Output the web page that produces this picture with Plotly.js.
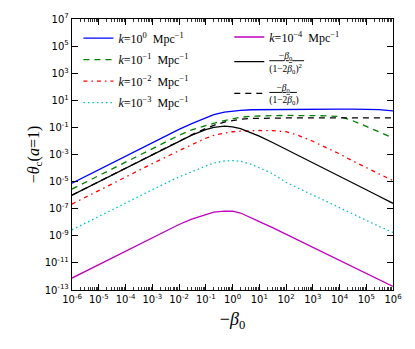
<!DOCTYPE html>
<html>
<head>
<meta charset="utf-8">
<script src="https://cdn.plot.ly/plotly-3.0.1.min.js"></script>
<style>html,body{margin:0;padding:0;background:#fff;}#chart{width:415px;height:349px;}</style>
</head>
<body>
<div id="chart"></div>
<script>
// -beta_0 sample points
var beta = [1e-6,1e-5,1e-4,1e-3,1e-2,3e-2,1e-1,2e-1,5e-1,1,2,5,10,30,100,300,1e3,3e3,1e4,3e4,1e5,3e5,1e6];

// -theta_c(a=1) for each k
var thetaK1e0 = [7.6e-6,7.6e-5,7.6e-4,7.4e-3,0.071,0.19,0.55,0.89,1.32,1.62,1.82,2.0,2.04,2.14,2.19,2.19,2.24,2.24,2.24,2.24,2.19,2.04,1.66];
var thetaK1e1 = [2.8e-6,2.8e-5,2.8e-4,2.75e-3,0.026,0.066,0.14,0.2,0.32,0.45,0.56,0.66,0.71,0.74,0.76,0.76,0.76,0.72,0.63,0.32,0.12,0.045,0.0166];
var thetaK1e2 = [2.2e-7,2.2e-6,2.2e-5,2.1e-4,1.9e-3,5.4e-3,0.0158,0.0263,0.0398,0.0479,0.0525,0.0575,0.0589,0.0575,0.0479,0.0251,0.00955,3.4e-3,1.12e-3,3.5e-4,1.12e-4,3.7e-5,1.17e-5];
var thetaK1e3 = [2.75e-9,2.75e-8,2.7e-7,2.5e-6,2.24e-5,5.6e-5,1.41e-4,2.4e-4,3.3e-4,3.55e-4,3.16e-4,1.9e-4,1.05e-4,4.0e-5,8.9e-6,3.16e-6,1.12e-6,4.0e-7,1.26e-7,4.2e-8,1.41e-8,5.0e-9,1.78e-9];
var thetaK1e4 = [7.6e-13,7.6e-12,7.6e-11,7.4e-10,6.8e-9,1.7e-8,3.8e-8,5.6e-8,6.6e-8,6.5e-8,4.8e-8,2.24e-8,1.12e-8,4.2e-9,1.32e-9,4.6e-10,1.45e-10,5.0e-11,1.6e-11,5.4e-12,1.7e-12,5.9e-13,1.86e-13];
var approxSquared = [1e-6,1e-5,1e-4,9.96e-4,9.61e-3,0.0267,0.0694,0.102,0.125,0.111,0.08,0.0413,0.0227,0.00806,0.00248,8.31e-4,2.5e-4,8.33e-5,2.5e-5,8.33e-6,2.5e-6,8.33e-7,2.5e-7];
var approxLinear = [1e-6,1e-5,1e-4,9.98e-4,9.8e-3,0.0283,0.0833,0.143,0.25,0.333,0.4,0.4545,0.476,0.492,0.4975,0.4992,0.4998,0.5,0.5,0.5,0.5,0.5,0.5];

// tick labels
var xTickVals = [1e-6,1e-5,1e-4,1e-3,1e-2,1e-1,1e0,1e1,1e2,1e3,1e4,1e5,1e6];
var xTickText = ['10<sup>-6</sup>','10<sup>-5</sup>','10<sup>-4</sup>','10<sup>-3</sup>','10<sup>-2</sup>','10<sup>-1</sup>','10<sup>0</sup>','10<sup>1</sup>','10<sup>2</sup>','10<sup>3</sup>','10<sup>4</sup>','10<sup>5</sup>','10<sup>6</sup>'];
var yTickVals = [1e-13,1e-11,1e-9,1e-7,1e-5,1e-3,1e-1,1e1,1e3,1e5,1e7];
var yTickText = ['10<sup>-13</sup>','10<sup>-11</sup>','10<sup>-9</sup>','10<sup>-7</sup>','10<sup>-5</sup>','10<sup>-3</sup>','10<sup>-1</sup>','10<sup>1</sup>','10<sup>3</sup>','10<sup>5</sup>','10<sup>7</sup>'];

var names = [
  '<i>k</i>=10<sup>0</sup>  Mpc<sup>−1</sup>',
  '<i>k</i>=10<sup>−1</sup>  Mpc<sup>−1</sup>',
  '<i>k</i>=10<sup>−2</sup>  Mpc<sup>−1</sup>',
  '<i>k</i>=10<sup>−3</sup>  Mpc<sup>−1</sup>',
  '<i>k</i>=10<sup>−4</sup>  Mpc<sup>−1</sup>',
  '<u>\u00a0\u00a0\u00a0\u00a0−<i>β</i><sub>0</sub>\u00a0\u00a0\u00a0\u00a0\u00a0</u><br>(1−2<i>β</i><sub>0</sub>)<sup>2</sup>',
  '<u>\u00a0\u00a0\u00a0−<i>β</i><sub>0</sub>\u00a0\u00a0\u00a0</u><br>(1−2<i>β</i><sub>0</sub>)'
];

var traces = [
  {y: thetaK1e0, line:{color:'#0000ff', width:1.3, dash:'solid'}, name:names[0], legend:'legend'},
  {y: thetaK1e1, line:{color:'#008000', width:1.3, dash:'6px,5px'}, name:names[1], legend:'legend'},
  {y: thetaK1e2, line:{color:'#ff0000', width:1.3, dash:'4px,4px,1.5px,4px'}, name:names[2], legend:'legend'},
  {y: thetaK1e3, line:{color:'#00bfbf', width:1.3, dash:'1.5px,3px'}, name:names[3], legend:'legend'},
  {y: thetaK1e4, line:{color:'#bf00bf', width:1.3, dash:'solid'}, name:names[4], legend:'legend2'},
  {y: approxSquared, line:{color:'#000000', width:1.3, dash:'solid'}, name:names[5], legend:'legend3'},
  {y: approxLinear, line:{color:'#000000', width:1.3, dash:'6px,5px'}, name:names[6], legend:'legend3'}
].map(function(t, i){ t.x = beta; t.type='scatter'; t.mode='lines'; t.legendgroup='g'+i; return t; });

var tickFont = {family:'DejaVu Sans', size:10, color:'#000'};
var legendFont = {family:'Liberation Serif', size:12, color:'#000'};
var common = {xanchor:'left', yanchor:'top', bgcolor:'rgba(0,0,0,0)', borderwidth:0, traceorder:'grouped', itemwidth:30};
var layout = {
  width:415, height:349,
  margin:{l:72, r:22, t:19, b:59},
  paper_bgcolor:'#fff', plot_bgcolor:'#fff',
  showlegend:true,
  xaxis:{
    type:'log', range:[-6,6], tickmode:'array', tickvals:xTickVals, ticktext:xTickText, tickangle:0,
    showgrid:false, zeroline:false, showline:true, linecolor:'#000', linewidth:1.2, mirror:'allticks',
    ticks:'inside', ticklen:6, tickcolor:'#000', tickwidth:1,
    minor:{dtick:'D1', ticks:'inside', ticklen:3, tickcolor:'#000', tickwidth:0.8, showgrid:false},
    tickfont:tickFont,
    title:{text:'−<i>β</i><sub>0</sub>', font:{family:'Liberation Serif', size:18, color:'#000'}, standoff:8}
  },
  yaxis:{
    type:'log', range:[-13,7], tickmode:'array', tickvals:yTickVals, ticktext:yTickText,
    showgrid:false, zeroline:false, showline:true, linecolor:'#000', linewidth:1.2, mirror:'allticks',
    ticks:'inside', ticklen:6, tickcolor:'#000', tickwidth:1,
    tickfont:tickFont,
    title:{text:'−<i>θ</i><sub>c</sub>(<i>a</i>=1)', font:{family:'Liberation Serif', size:16, color:'#000'}, standoff:1}
  },
  legend:Object.assign({x:0.02, y:0.983, font:legendFont, tracegroupgap:2.5}, common),
  legend2:Object.assign({x:0.49, y:0.987, font:legendFont, tracegroupgap:0}, common),
  legend3:Object.assign({x:0.49, y:0.912, font:{family:'Liberation Serif', size:9.5, color:'#000'}, tracegroupgap:4}, common)
};

Plotly.newPlot('chart', traces, layout, {displayModeBar:false, staticPlot:true});
</script>
</body>
</html>
